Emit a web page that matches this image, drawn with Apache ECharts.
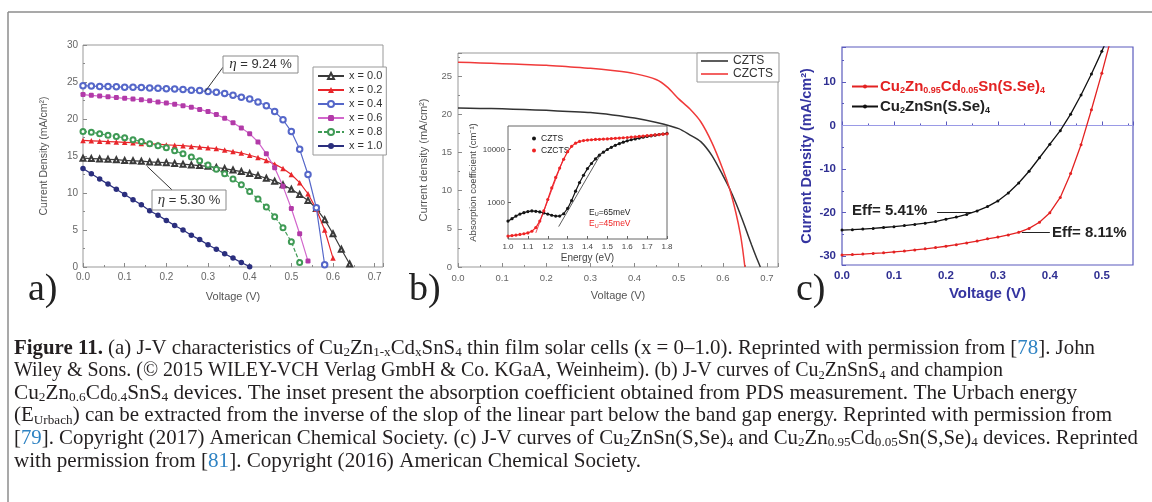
<!DOCTYPE html>
<html><head><meta charset="utf-8">
<script src="https://cdn.jsdelivr.net/npm/echarts@6/dist/echarts.min.js"></script>
<style>html,body{margin:0;padding:0;background:#fff}#c{width:1152px;height:502px}</style>
</head><body><div id="c"></div>
<script>
// ---------- Panel (a) : J-V of Cu2Zn1-xCdxSnS4 ----------
const vA = [0.00,0.02,0.04,0.06,0.08,0.10,0.12,0.14,0.16,0.18,0.20,0.22,0.24,0.26,0.28,0.30,0.32,0.34,0.36,0.38,0.40,0.42,0.44,0.46,0.48,0.50,0.52,0.54,0.56,0.58,0.60,0.62,0.64];
const jA_x00 = [14.7,14.65,14.6,14.55,14.5,14.4,14.35,14.3,14.2,14.15,14.1,14.0,13.9,13.8,13.7,13.6,13.45,13.3,13.1,12.9,12.65,12.35,12.0,11.6,11.1,10.5,9.8,9.0,7.9,6.4,4.5,2.4,0.4];
const jA_x02 = [17.1,17.05,17.0,16.95,16.9,16.85,16.8,16.7,16.65,16.6,16.5,16.45,16.4,16.3,16.2,16.1,16.0,15.8,15.6,15.4,15.1,14.8,14.4,13.9,13.3,12.5,11.4,9.9,7.8,5.0,1.2];
const jA_x04 = [24.5,24.45,24.4,24.4,24.35,24.3,24.3,24.25,24.2,24.15,24.1,24.05,24.0,23.9,23.85,23.7,23.6,23.45,23.2,22.95,22.7,22.3,21.8,21.0,19.9,18.3,15.9,12.5,8.0,0.3];
const jA_x06 = [23.3,23.2,23.1,23.0,22.9,22.8,22.7,22.6,22.45,22.3,22.15,22.0,21.8,21.6,21.3,21.0,20.6,20.1,19.5,18.8,18.0,16.9,15.3,13.4,10.9,7.9,4.5,0.8];
const jA_x08 = [18.3,18.2,18.0,17.8,17.65,17.45,17.2,16.95,16.65,16.4,16.1,15.7,15.3,14.85,14.35,13.8,13.2,12.6,11.9,11.1,10.2,9.2,8.1,6.8,5.3,3.4,0.6];
const jA_x10 = [13.3,12.6,11.9,11.2,10.5,9.8,9.1,8.4,7.6,7.0,6.3,5.6,5.0,4.3,3.7,3.0,2.4,1.8,1.2,0.6,0.05];
const namesA = ['x = 0.0','x = 0.2','x = 0.4','x = 0.6','x = 0.8','x = 1.0'];

// ---------- Panel (b) : CZTS vs CZCTS ----------
const vB_CZTS  = [0,0.05,0.1,0.15,0.2,0.25,0.3,0.35,0.4,0.45,0.5,0.525,0.55,0.575,0.6,0.615,0.63,0.65,0.665,0.675,0.685];
const jB_CZTS  = [20.8,20.75,20.7,20.6,20.5,20.35,20.2,19.9,19.5,18.9,18.1,17.3,16.4,14.6,12.0,10.3,8.3,5.3,2.9,1.4,0];
const vB_CZCTS = [0,0.05,0.1,0.15,0.2,0.25,0.3,0.35,0.4,0.45,0.475,0.5,0.525,0.55,0.575,0.6,0.615,0.63,0.64,0.645,0.65];
const jB_CZCTS = [26.8,26.7,26.6,26.5,26.4,26.2,26.0,25.7,25.3,24.5,23.5,22.0,20.7,19.0,16.3,12.8,10.3,7.0,4.2,2.3,0];

// ---------- Inset of (b) : absorption coefficient ----------
const eIn = [1.00,1.02,1.04,1.06,1.08,1.10,1.12,1.14,1.16,1.18,1.20,1.22,1.24,1.26,1.28,1.30,1.32,1.34,1.36,1.38,1.40,1.42,1.44,1.46,1.48,1.50,1.52,1.54,1.56,1.58,1.60,1.62,1.64,1.66,1.68,1.70,1.72,1.74,1.76,1.78,1.80];
const aIn_CZTS  = [450,500,560,610,650,680,700,690,670,640,610,580,560,560,620,780,1100,1650,2400,3300,4400,5500,6700,7900,9000,10100,11100,12100,13000,13900,14700,15400,16000,16600,17200,17800,18300,18800,19300,19800,20300];
const aIn_CZCTS = [235,240,245,252,260,270,290,340,450,700,1150,1900,3000,4500,6600,9200,11600,13300,14300,14900,15200,15400,15600,15700,15900,16000,16200,16400,16600,16800,17000,17300,17500,17800,18100,18400,18700,19000,19300,19600,19900];
const fitE_CZTS = [1.255,1.47],  fitA_CZTS = [355,8700];
const fitE_CZCTS = [1.14,1.28], fitA_CZCTS = [270,7000];

// ---------- Panel (c) : CZTSSe vs Cd-alloyed ----------
const vC = [0.00,0.02,0.04,0.06,0.08,0.10,0.12,0.14,0.16,0.18,0.20,0.22,0.24,0.26,0.28,0.30,0.32,0.34,0.36,0.38,0.40,0.42,0.44,0.46,0.48,0.50,0.52];
const jC_CZTSSe  = [-24.0,-23.9,-23.75,-23.6,-23.4,-23.2,-22.95,-22.7,-22.4,-22.05,-21.5,-21.0,-20.4,-19.6,-18.6,-17.3,-15.5,-13.2,-10.5,-7.4,-4.3,-1.2,2.6,7.0,11.8,17.0,22.5];
const jC_CZCTSSe = [-29.7,-29.6,-29.5,-29.35,-29.2,-29.0,-28.8,-28.55,-28.3,-28.0,-27.7,-27.35,-26.95,-26.5,-26.0,-25.6,-25.1,-24.5,-23.6,-22.2,-20.0,-16.5,-11.0,-4.4,3.6,12.0,21.0];

// ---------- Caption ----------
const capLines = [
 '{b|Figure 11.} (a) J-V characteristics of Cu{s|2}Zn{s|1-x}Cd{s|x}SnS{s|4} thin film solar cells (x = 0–1.0). Reprinted with permission from [{l|78}]. John',
 'Wiley & Sons. (© 2015 WILEY-VCH Verlag GmbH & Co. KGaA, Weinheim). (b) J-V curves of Cu{s|2}ZnSnS{s|4} and champion',
 'Cu{s|2}Zn{s|0.6}Cd{s|0.4}SnS{s|4} devices. The inset present the absorption coefficient obtained from PDS measurement. The Urbach energy',
 '(E{s|Urbach}) can be extracted from the inverse of the slop of the linear part below the band gap energy. Reprinted with permission from',
 '[{l|79}]. Copyright (2017) American Chemical Society. (c) J-V curves of Cu{s|2}ZnSn(S,Se){s|4} and Cu{s|2}Zn{s|0.95}Cd{s|0.05}Sn(S,Se){s|4} devices. Reprinted',
 'with permission from [{l|81}]. Copyright (2016) American Chemical Society.'
];

// ================= layout helpers =================
const zip = (xs, ys) => ys.map((y, i) => [xs[i], y]);
const SANS = 'Liberation Sans', SERIF = 'Liberation Serif';
const CAP_FS = 21.5, CAP_X = 14;
const capEnd = [1095, 1003, 1077, 1112, 1138, 641];
const capY = [348, 370.6, 393.2, 415.8, 438.4, 461];
const capRich = {
  b: {fontWeight: 'bold', fontFamily: SERIF, fontSize: CAP_FS},
  s: {fontFamily: SERIF, fontSize: 13.5, lineHeight: 12, verticalAlign: 'bottom'},
  l: {fontFamily: SERIF, fontSize: CAP_FS, fill: '#2f83c3'}
};
const mctx = document.createElement('canvas').getContext('2d');
function measureRich(str) {
  let w = 0, last = 0, m; const re = /\{(\w+)\|([^}]*)\}/g;
  const seg = (t, st) => { const s = (st && capRich[st]) || {}; mctx.font = (s.fontWeight || 'normal') + ' ' + (s.fontSize || CAP_FS) + 'px "' + SERIF + '"'; w += mctx.measureText(t).width; };
  while ((m = re.exec(str))) { if (m.index > last) seg(str.slice(last, m.index)); seg(m[2], m[1]); last = re.lastIndex; }
  if (last < str.length) seg(str.slice(last));
  return w;
}

const grayAx = '#8a8a8a', grayLbl = '#666', blueAx = '#5b5bbd', blueLbl = '#2f2f92';
function valAxis(o) {
  return Object.assign({
    type: 'value', axisLine: {show: false}, splitLine: {show: false},
    axisTick: {inside: true, length: 4, lineStyle: {color: o.tc || grayAx}},
    minorTick: {show: true, splitNumber: 2, length: 2, lineStyle: {color: o.tc || grayAx}},
    nameLocation: 'middle'
  }, o.ax);
}

const xAxis = [
  valAxis({ax: {gridIndex: 0, min: 0, max: 0.72, interval: 0.1,
    axisLabel: {color: grayLbl, fontSize: 10, margin: 5, formatter: v => v.toFixed(1), showMaxLabel: false},
    name: 'Voltage (V)', nameGap: 24, nameTextStyle: {color: '#555', fontSize: 11}}}),
  valAxis({ax: {gridIndex: 1, min: 0, max: 0.725, interval: 0.1,
    axisLabel: {color: grayLbl, fontSize: 9.5, margin: 6, formatter: v => v.toFixed(1), showMaxLabel: false},
    name: 'Voltage (V)', nameGap: 23, nameTextStyle: {color: '#555', fontSize: 11}}}),
  valAxis({tc: blueAx, ax: {gridIndex: 2, min: 0, max: 0.56, interval: 0.1,
    axisLabel: {color: blueLbl, fontSize: 11.5, fontWeight: 'bold', margin: 5, formatter: v => v.toFixed(1), showMaxLabel: false},
    name: 'Voltage (V)', nameGap: 21, nameTextStyle: {color: '#3434a0', fontSize: 15, fontWeight: 'bold'}}}),
  valAxis({ax: {gridIndex: 3, min: 1.0, max: 1.8, interval: 0.1,
    axisTick: {inside: true, length: 3, lineStyle: {color: '#666'}},
    minorTick: {show: false},
    axisLabel: {color: '#444', fontSize: 8, margin: 4, formatter: v => v.toFixed(1)},
    name: 'Energy (eV)', nameGap: 14, nameTextStyle: {color: '#444', fontSize: 10}}})
];
const yAxis = [
  valAxis({ax: {gridIndex: 0, min: 0, max: 30, interval: 5,
    axisLabel: {color: grayLbl, fontSize: 10, margin: 5},
    name: 'Current Density (mA/cm²)', nameGap: 33, nameTextStyle: {color: '#555', fontSize: 10.5}}}),
  valAxis({ax: {gridIndex: 1, min: 0, max: 28, interval: 5,
    axisLabel: {color: grayLbl, fontSize: 9.5, margin: 6, showMaxLabel: false},
    name: 'Current density (mA/cm²)', nameGap: 29, nameTextStyle: {color: '#555', fontSize: 11}}}),
  valAxis({tc: blueAx, ax: {gridIndex: 2, min: -32, max: 18,
    axisLabel: {color: blueLbl, fontSize: 11.5, fontWeight: 'bold', margin: 6, showMinLabel: false, showMaxLabel: false},
    name: 'Current Density (mA/cm²)', nameGap: 28, nameTextStyle: {color: '#3434a0', fontSize: 14.5, fontWeight: 'bold'}}}),
  {type: 'log', gridIndex: 3, min: 207, max: 28000, axisLine: {show: false}, splitLine: {show: false},
    axisTick: {inside: true, length: 3, lineStyle: {color: '#666'}},
    axisLabel: {color: '#444', fontSize: 8, margin: 3, showMinLabel: false, showMaxLabel: false, formatter: v => String(Math.round(v))},
    nameLocation: 'middle', name: 'Absorption coefficient (cm⁻¹)', nameGap: 30, nameTextStyle: {color: '#444', fontSize: 9.5}}
];

const colA = ['#3a3a3a', '#e8262b', '#5567c9', '#b23aa8', '#3f9a55', '#2b2f7e'];
const symA = ['emptyTriangle', 'triangle', 'emptyCircle', 'roundRect', 'emptyCircle', 'circle'];
const sizeA = [5, 5.5, 5.5, 5, 5, 5.5];
const dataA = [jA_x00, jA_x02, jA_x04, jA_x06, jA_x08, jA_x10];
const series = dataA.map((ys, k) => ({
  type: 'line', name: namesA[k], xAxisIndex: 0, yAxisIndex: 0,
  data: zip(vA, ys), symbol: symA[k], symbolSize: sizeA[k],
  itemStyle: {color: colA[k], borderWidth: 1},
  lineStyle: {color: k === 3 ? '#d266cc' : colA[k], width: 1.2, type: k === 4 ? [4, 2] : 'solid'},
  z: 2 + k
}));
series[0].markLine = {silent: true, symbol: ['none', 'arrow'], symbolSize: [0, 7], label: {show: false},
  lineStyle: {color: '#333', width: 1, type: 'solid'},
  data: [[{coord: [0.336, 27.0]}, {coord: [0.293, 23.7]}], [{coord: [0.214, 10.4]}, {coord: [0.154, 13.6]}]]};

series.push(
  {type: 'line', name: 'CZTS', xAxisIndex: 1, yAxisIndex: 1, data: zip(vB_CZTS, jB_CZTS), smooth: 0.25, symbol: 'none',
    itemStyle: {color: '#333'}, lineStyle: {color: '#333', width: 1.5}},
  {type: 'line', name: 'CZCTS', xAxisIndex: 1, yAxisIndex: 1, data: zip(vB_CZCTS, jB_CZCTS), smooth: 0.25, symbol: 'none',
    itemStyle: {color: '#f03a3a'}, lineStyle: {color: '#f03a3a', width: 1.5}},
  {type: 'line', name: 'CZTS PDS', xAxisIndex: 3, yAxisIndex: 3, data: zip(eIn, aIn_CZTS), symbol: 'circle', symbolSize: 3.2,
    itemStyle: {color: '#151515'}, lineStyle: {color: '#151515', width: 1.2}, z: 6},
  {type: 'line', name: 'CZCTS PDS', xAxisIndex: 3, yAxisIndex: 3, data: zip(eIn, aIn_CZCTS), symbol: 'circle', symbolSize: 3.2,
    itemStyle: {color: '#ee2424'}, lineStyle: {color: '#ee2424', width: 1.2}, z: 6},
  {type: 'line', name: 'fit1', xAxisIndex: 3, yAxisIndex: 3, data: zip(fitE_CZTS, fitA_CZTS), symbol: 'none',
    lineStyle: {color: '#333', width: 0.8}, z: 7},
  {type: 'line', name: 'fit2', xAxisIndex: 3, yAxisIndex: 3, data: zip(fitE_CZCTS, fitA_CZCTS), symbol: 'none',
    lineStyle: {color: '#e23', width: 0.8}, z: 7},
  {type: 'line', name: 'CZCTSSe', xAxisIndex: 2, yAxisIndex: 2, data: zip(vC, jC_CZCTSSe), symbol: 'circle', symbolSize: 3,
    itemStyle: {color: '#e32222'}, lineStyle: {color: '#e32222', width: 1.3}, z: 4,
    markLine: {silent: true, symbol: 'none', label: {show: false}, lineStyle: {color: '#9a9ae6', width: 1, type: 'solid'}, data: [{yAxis: 0}], z: 1}},
  {type: 'line', name: 'CZTSSe', xAxisIndex: 2, yAxisIndex: 2, data: zip(vC, jC_CZTSSe), symbol: 'circle', symbolSize: 3,
    itemStyle: {color: '#111'}, lineStyle: {color: '#111', width: 1.3}, z: 5,
    markLine: {silent: true, symbol: ['none', 'arrow'], symbolSize: [0, 7], label: {show: false},
      lineStyle: {color: '#222', width: 1, type: 'solid'},
      data: [[{coord: [0.183, -19.8]}, {coord: [0.25, -19.8]}], [{coord: [0.40, -24.6]}, {coord: [0.346, -24.6]}]]}}
);

const legend = [
  {left: 313, top: 67, orient: 'vertical', data: namesA, selectedMode: false, itemWidth: 26, itemHeight: 7.5, itemGap: 2,
    borderColor: '#999', borderWidth: 1, padding: [3, 4, 3, 4], backgroundColor: '#fff',
    textStyle: {fontSize: 11, color: '#333', lineHeight: 12, fontFamily: SANS}},
  {left: 697, top: 53, orient: 'vertical', data: ['CZTS', 'CZCTS'], selectedMode: false, icon: 'rect', itemWidth: 27, itemHeight: 1.6, itemGap: 1,
    borderColor: '#999', borderWidth: 1, padding: [2, 6, 2, 4], backgroundColor: '#fff',
    textStyle: {fontSize: 12, color: '#333', lineHeight: 12, fontFamily: SANS}},
  {left: 846, top: 73, orient: 'vertical', data: ['CZCTSSe', 'CZTSSe'], selectedMode: false, itemWidth: 26, itemHeight: 5, itemGap: 3,
    formatter: n => n === 'CZCTSSe' ? '{r|Cu}{rs|2}{r|Zn}{rs|0.95}{r|Cd}{rs|0.05}{r|Sn(S.Se)}{rs|4}' : '{k|Cu}{ks|2}{k|ZnSn(S.Se)}{ks|4}',
    textStyle: {lineHeight: 17, padding: [0, 0, 0, -3], rich: {
      r: {color: '#e32222', fontWeight: 'bold', fontSize: 15, fontFamily: SANS, lineHeight: 17},
      rs: {color: '#e32222', fontWeight: 'bold', fontSize: 9, fontFamily: SANS, lineHeight: 10, verticalAlign: 'bottom'},
      k: {color: '#222', fontWeight: 'bold', fontSize: 15, fontFamily: SANS, lineHeight: 17},
      ks: {color: '#222', fontWeight: 'bold', fontSize: 9, fontFamily: SANS, lineHeight: 10, verticalAlign: 'bottom'}}}},
  {left: 527, top: 129, orient: 'vertical', data: ['CZTS PDS', 'CZCTS PDS'], selectedMode: false, icon: 'circle', itemWidth: 4, itemHeight: 4, itemGap: 3,
    formatter: n => n.replace(' PDS', ''), textStyle: {fontSize: 8.5, color: '#222', lineHeight: 8, fontFamily: SANS}}
];

const graphic = [
  {type: 'line', shape: {x1: 8, y1: 12, x2: 1152, y2: 12}, style: {stroke: '#8c8c8c', lineWidth: 1.5}},
  {type: 'line', shape: {x1: 8, y1: 12, x2: 8, y2: 502}, style: {stroke: '#8c8c8c', lineWidth: 1.5}},
  {type: 'rect', shape: {x: 223, y: 56, width: 75, height: 17}, style: {fill: '#fff', stroke: '#8a8a8a', lineWidth: 1}, z: 20},
  {type: 'text', x: 260.5, y: 64.5, z: 21, style: {text: '{i|η} = 9.24 %', fontFamily: SANS, fontSize: 13, fill: '#333', align: 'center', verticalAlign: 'middle',
    rich: {i: {fontFamily: SERIF, fontStyle: 'italic', fontSize: 15, fill: '#333'}}}},
  {type: 'rect', shape: {x: 152, y: 190, width: 74, height: 20}, style: {fill: '#fff', stroke: '#8a8a8a', lineWidth: 1}, z: 20},
  {type: 'text', x: 189, y: 200, z: 21, style: {text: '{i|η} = 5.30 %', fontFamily: SANS, fontSize: 13, fill: '#333', align: 'center', verticalAlign: 'middle',
    rich: {i: {fontFamily: SERIF, fontStyle: 'italic', fontSize: 15, fill: '#333'}}}},
  {type: 'text', x: 589, y: 212.5, z: 21, style: {text: 'E{s|U}=65meV', fontFamily: SANS, fontSize: 8.5, fill: '#222', verticalAlign: 'middle', lineHeight: 10,
    rich: {s: {fontSize: 5.5, lineHeight: 6, verticalAlign: 'bottom', fill: '#222', fontFamily: SANS}}}},
  {type: 'text', x: 589, y: 224, z: 21, style: {text: 'E{s|U}=45meV', fontFamily: SANS, fontSize: 8.5, fill: '#ee2424', verticalAlign: 'middle', lineHeight: 10,
    rich: {s: {fontSize: 5.5, lineHeight: 6, verticalAlign: 'bottom', fill: '#ee2424', fontFamily: SANS}}}},
  {type: 'text', x: 852, y: 211, z: 21, style: {text: 'Eff= 5.41%', fontFamily: SANS, fontWeight: 'bold', fontSize: 15, fill: '#222', verticalAlign: 'middle'}},
  {type: 'text', x: 1052, y: 233, z: 21, style: {text: 'Eff= 8.11%', fontFamily: SANS, fontWeight: 'bold', fontSize: 15, fill: '#222', verticalAlign: 'middle'}},
  {type: 'text', x: 28, y: 290, style: {text: 'a)', fontFamily: SERIF, fontSize: 38, fill: '#222', verticalAlign: 'middle'}},
  {type: 'text', x: 409, y: 290, style: {text: 'b)', fontFamily: SERIF, fontSize: 38, fill: '#222', verticalAlign: 'middle'}},
  {type: 'text', x: 796, y: 290, style: {text: 'c)', fontFamily: SERIF, fontSize: 38, fill: '#222', verticalAlign: 'middle'}}
];
capLines.forEach((t, i) => {
  const sx = (capEnd[i] - CAP_X) / measureRich(t);
  graphic.push({type: 'text', x: CAP_X, y: capY[i], scaleX: sx, originX: 0, originY: 0,
    style: {text: t, fontFamily: SERIF, fontSize: CAP_FS, fill: '#231f20', lineHeight: 23, verticalAlign: 'middle', rich: capRich}});
});

const chart = echarts.init(document.getElementById('c'), null, {renderer: 'canvas'});
chart.setOption({
  animation: false,
  textStyle: {fontFamily: SANS},
  grid: [
    {left: 83, top: 45, width: 300, height: 222, show: true, borderColor: '#999', borderWidth: 1},
    {left: 458, top: 53, width: 320, height: 214, show: true, borderColor: '#999', borderWidth: 1},
    {left: 842, top: 47, width: 291, height: 218, show: true, borderColor: blueAx, borderWidth: 1.2},
    {left: 508, top: 126, width: 159, height: 113, show: true, borderColor: '#666', borderWidth: 1, backgroundColor: '#fff'}
  ],
  xAxis, yAxis, legend, series, graphic
});
</script></body></html>
